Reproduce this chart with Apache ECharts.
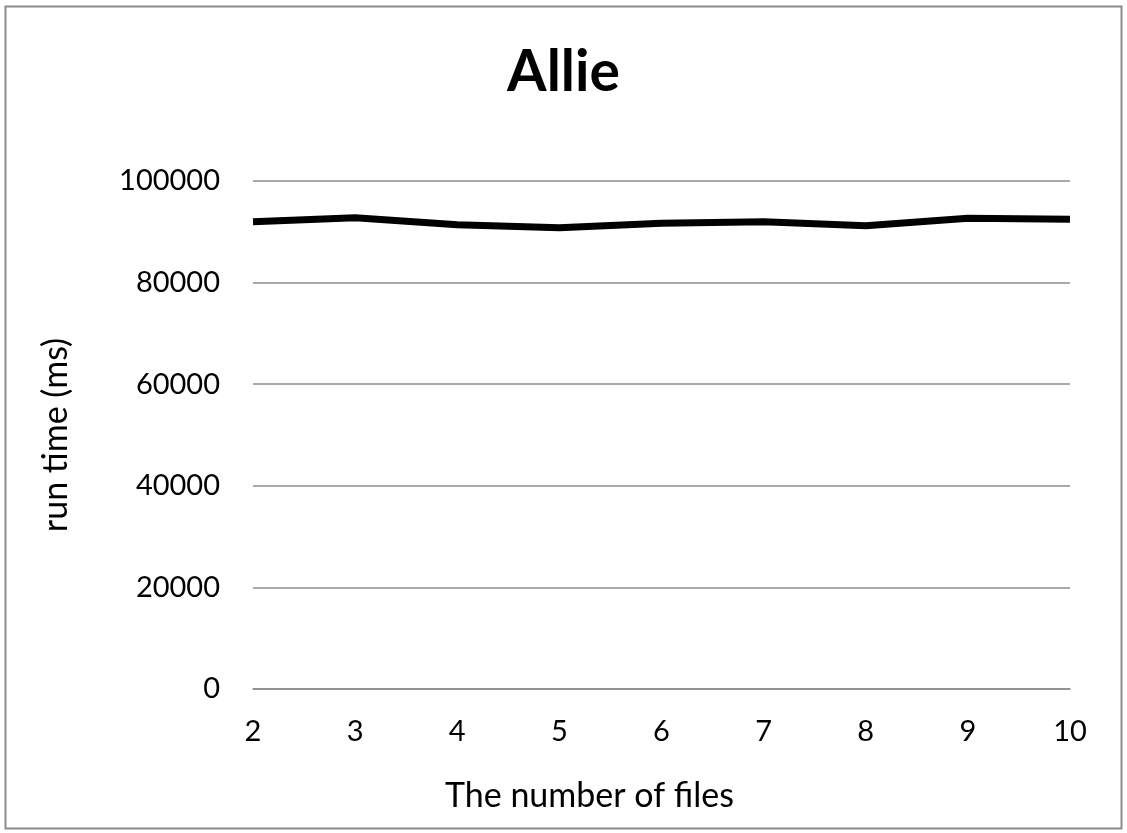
<!DOCTYPE html>
<html><head><meta charset="utf-8">
<script src="https://cdn.jsdelivr.net/npm/echarts@6/dist/echarts.min.js"></script>
<style>html,body{margin:0;padding:0;background:#fff}#c{width:1127px;height:833px}</style>
</head><body><div id="c"></div>
<script>
const categories = ['2','3','4','5','6','7','8','9','10'];
const runTime = [92000, 92750, 91400, 90800, 91700, 92000, 91200, 92650, 92450];
const yTicks = [0, 20000, 40000, 60000, 80000, 100000];
const FONT = 'Lato, "Open Sans", sans-serif';
const chart = echarts.init(document.getElementById('c'));
chart.setOption({
  backgroundColor: '#fff',
  animation: false,
  graphic: [{type:'rect', shape:{x:5.5,y:6.5,width:1116,height:822}, style:{fill:'none', stroke:'#8c8c8c', lineWidth:2}}],
  title: {text:'Allie', left:'center', top:39, textStyle:{fontFamily:FONT, fontSize:57, fontWeight:'bold', color:'#000'}},
  grid: {left:253, right:57, top:181, bottom:144, containLabel:false},
  xAxis: {type:'category', data:categories, boundaryGap:false,
    name:'The number of files', nameLocation:'middle', nameGap:90,
    nameTextStyle:{fontFamily:FONT, fontSize:34, color:'#000', padding:[0,144,0,0]},
    axisLine:{lineStyle:{color:'#8c8c8c', width:1.5}}, axisTick:{show:false},
    axisLabel:{fontFamily:FONT, fontSize:29, color:'#000', margin:28}},
  yAxis: {type:'value', min:yTicks[0], max:yTicks[yTicks.length-1], interval:20000,
    name:'run time (ms)', nameLocation:'middle', nameGap:180, nameRotate:90,
    nameTextStyle:{fontFamily:FONT, fontSize:34, color:'#000'},
    axisLine:{show:false}, axisTick:{show:false},
    splitLine:{lineStyle:{color:'#8c8c8c', width:1.5}},
    axisLabel:{fontFamily:FONT, fontSize:29, color:'#000', margin:33, formatter: v => String(v)}},
  series: [{type:'line', data:runTime, symbol:'none', smooth:false,
    lineStyle:{color:'#000', width:7, join:'round'}}]
});
</script></body></html>
